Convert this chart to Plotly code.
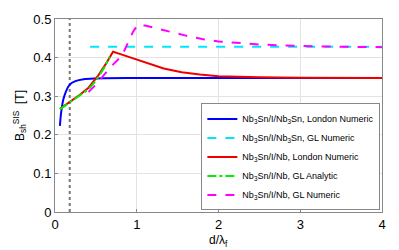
import plotly.graph_objects as go

# Nb3Sn/I/Nb3Sn, London Numeric
blue_x = [0.06, 0.07, 0.08, 0.1, 0.13, 0.18, 0.25, 0.35, 0.5, 1.0, 2.0, 4.0]
blue_y = [0.223, 0.248, 0.265, 0.29, 0.31, 0.330, 0.339, 0.344, 0.346, 0.347, 0.347, 0.347]

# Nb3Sn/I/Nb3Sn, GL Numeric
cyan_x = [0.43, 4.0]
cyan_y = [0.428, 0.428]

# Nb3Sn/I/Nb, London Numeric
red_x = [0.06, 0.2, 0.3, 0.41, 0.53, 0.62, 0.71, 0.8, 0.9, 1.02, 1.15, 1.33, 1.55, 1.77, 2.0, 2.5, 3.0, 4.0]
red_y = [0.267, 0.288, 0.303, 0.322, 0.354, 0.383, 0.415, 0.409, 0.402, 0.395, 0.384, 0.372, 0.362, 0.356, 0.352, 0.349, 0.348, 0.347]

# Nb3Sn/I/Nb, GL Analytic
green_x = [0.06, 0.2, 0.3, 0.41, 0.5, 0.6, 0.67]
green_y = [0.266, 0.286, 0.300, 0.318, 0.340, 0.373, 0.403]

# Nb3Sn/I/Nb, GL Numeric
mag_x = [0.41, 0.5, 0.6, 0.7, 0.82, 0.9, 0.95, 1.01, 1.1, 1.2, 1.4, 1.6, 1.8, 2.0, 2.5, 3.0, 3.5, 4.0]
mag_y = [0.311, 0.330, 0.355, 0.380, 0.405, 0.440, 0.465, 0.485, 0.483, 0.478, 0.467, 0.457, 0.448, 0.442, 0.434, 0.430, 0.428, 0.427]

# vertical marker
vline_x = [0.18, 0.18]
vline_y = [0.0, 0.5]

names = [
    "Nb<sub>3</sub>Sn/I/Nb<sub>3</sub>Sn, London Numeric",
    "Nb<sub>3</sub>Sn/I/Nb<sub>3</sub>Sn, GL Numeric",
    "Nb<sub>3</sub>Sn/I/Nb, London Numeric",
    "Nb<sub>3</sub>Sn/I/Nb, GL Analytic",
    "Nb<sub>3</sub>Sn/I/Nb, GL Numeric",
]

x_ticks = [0, 1, 2, 3, 4]
y_ticks = [0, 0.1, 0.2, 0.3, 0.4, 0.5]

fig = go.Figure()
fig.add_trace(go.Scatter(x=vline_x, y=vline_y, mode="lines", showlegend=False,
                         line=dict(color="#777777", width=2, dash="dot")))
fig.add_trace(go.Scatter(x=blue_x, y=blue_y, mode="lines", name=names[0],
                         line=dict(color="#0000ff", width=2, shape="spline")))
fig.add_trace(go.Scatter(x=cyan_x, y=cyan_y, mode="lines", name=names[1],
                         line=dict(color="#00e5ff", width=2, dash="dash")))
fig.add_trace(go.Scatter(x=red_x, y=red_y, mode="lines", name=names[2],
                         line=dict(color="#ee0000", width=2)))
fig.add_trace(go.Scatter(x=green_x, y=green_y, mode="lines", name=names[3],
                         line=dict(color="#00ee00", width=2, dash="dashdot")))
fig.add_trace(go.Scatter(x=mag_x, y=mag_y, mode="lines", name=names[4],
                         line=dict(color="#ff00ff", width=2, dash="dash")))

fig.update_layout(
    width=399, height=250,
    margin=dict(l=55, r=17, t=15, b=38),
    paper_bgcolor="white", plot_bgcolor="white",
    font=dict(family="Liberation Sans, Arial, sans-serif", color="black", size=13),
    legend=dict(x=0.995, y=0.008, xanchor="right", yanchor="bottom",
                bgcolor="white", bordercolor="#888888", borderwidth=1,
                font=dict(size=9), itemwidth=30, tracegroupgap=0),
    xaxis=dict(range=[0, 4], tickvals=x_ticks, showgrid=True, gridcolor="#e3e3e3",
               showline=True, linecolor="#888888", mirror=True, ticks="inside",
               ticklen=3, tickcolor="#888888", zeroline=False,
               tickfont=dict(size=13)),
    yaxis=dict(range=[0, 0.5], tickvals=y_ticks, ticktext=["0", "0.1", "0.2", "0.3", "0.4", "0.5"],
               showgrid=True, gridcolor="#e3e3e3",
               showline=True, linecolor="#888888", mirror=True, ticks="inside",
               ticklen=3, tickcolor="#888888", zeroline=False,
               title=dict(text="B<sub>sh</sub><sup>SIS</sup>  [T]", standoff=6, font=dict(size=12)),
               tickfont=dict(size=13)),
    annotations=[dict(text="d/λ<sub>f</sub>", xref="paper", yref="paper", x=0.5, y=-0.1,
                      xanchor="center", yanchor="top", showarrow=False, font=dict(size=12))],
)

fig.write_html("out.html", config={"displayModeBar": False},
               post_script="document.body.style.margin='0';")
